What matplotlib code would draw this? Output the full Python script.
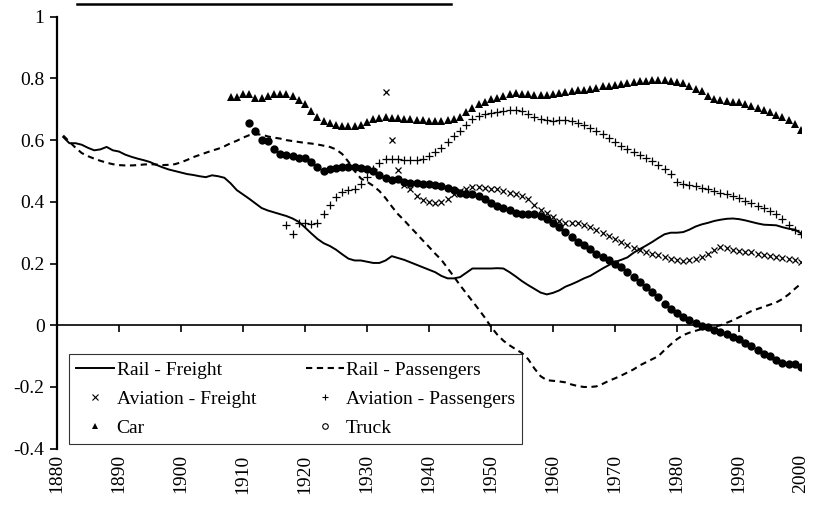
import matplotlib
matplotlib.use("Agg")
import matplotlib.pyplot as plt
from matplotlib.lines import Line2D

# ---------------- data ----------------
rail_freight_years = list(range(1881, 2001))
rail_freight = [0.61, 0.59, 0.59, 0.585, 0.575, 0.567, 0.57, 0.578, 0.567, 0.563,
                0.553, 0.546, 0.54, 0.535, 0.529, 0.52, 0.512, 0.505, 0.5, 0.495,
                0.49, 0.487, 0.483, 0.48, 0.486, 0.483, 0.478, 0.46, 0.438, 0.424,
                0.41, 0.395, 0.38, 0.372, 0.366, 0.36, 0.354, 0.346, 0.335, 0.317,
                0.298, 0.28, 0.266, 0.257, 0.245, 0.23, 0.216, 0.21, 0.21, 0.206,
                0.202, 0.202, 0.21, 0.224, 0.218, 0.212, 0.204, 0.196, 0.188, 0.18,
                0.172, 0.16, 0.152, 0.152, 0.156, 0.17, 0.184, 0.184, 0.184, 0.184,
                0.185, 0.184, 0.172, 0.158, 0.143, 0.13, 0.118, 0.106, 0.1, 0.105,
                0.113, 0.125, 0.133, 0.142, 0.152, 0.16, 0.172, 0.184, 0.195, 0.205,
                0.212, 0.22, 0.235, 0.247, 0.258, 0.27, 0.283, 0.295, 0.3, 0.3,
                0.302, 0.31, 0.32, 0.327, 0.332, 0.338, 0.342, 0.345, 0.346, 0.344,
                0.34, 0.335, 0.33, 0.326, 0.325, 0.324, 0.318, 0.313, 0.31, 0.298]

rail_pass_years = list(range(1881, 2001))
rail_pass = [0.615, 0.595, 0.575, 0.558, 0.548, 0.54, 0.533, 0.527, 0.522, 0.519,
             0.518, 0.518, 0.519, 0.521, 0.522, 0.521, 0.519, 0.52, 0.522, 0.528,
             0.536, 0.545, 0.552, 0.559, 0.566, 0.572, 0.58, 0.59, 0.598, 0.608,
             0.616, 0.619, 0.618, 0.612, 0.608, 0.605, 0.6, 0.597, 0.594, 0.591,
             0.589, 0.586, 0.582, 0.578, 0.57, 0.555, 0.53, 0.5, 0.476, 0.465,
             0.452, 0.435, 0.412, 0.385, 0.36, 0.34, 0.318, 0.297, 0.275, 0.254,
             0.232, 0.212, 0.185, 0.158, 0.13, 0.104, 0.078, 0.052, 0.025, -0.005,
             -0.03, -0.05, -0.065, -0.078, -0.09, -0.11, -0.14, -0.165, -0.178, -0.18,
             -0.182, -0.185, -0.192, -0.197, -0.2, -0.2, -0.198, -0.19, -0.18, -0.172,
             -0.163, -0.153, -0.143, -0.13, -0.12, -0.11, -0.1, -0.08, -0.062, -0.045,
             -0.032, -0.024, -0.018, -0.012, -0.008, -0.005, 0.0, 0.008, 0.016, 0.026,
             0.036, 0.046, 0.053, 0.06, 0.067, 0.074, 0.085, 0.1, 0.118, 0.135]

avi_freight_years = list(range(1933, 2001))
avi_freight = [0.756, 0.602, 0.502, 0.455, 0.44, 0.42, 0.405, 0.398, 0.395, 0.40,
               0.41, 0.425, 0.435, 0.443, 0.447, 0.447, 0.446, 0.443, 0.44, 0.435,
               0.43, 0.424, 0.418, 0.41, 0.39, 0.375, 0.365, 0.352, 0.338, 0.333,
               0.332, 0.33, 0.325, 0.318, 0.31, 0.3, 0.29, 0.28, 0.27, 0.26,
               0.252, 0.244, 0.238, 0.232, 0.228, 0.222, 0.216, 0.212, 0.208, 0.21,
               0.215, 0.222, 0.232, 0.245, 0.254, 0.252, 0.245, 0.24, 0.238, 0.236,
               0.232, 0.228, 0.224, 0.22, 0.218, 0.214, 0.212, 0.205]

avi_pass_years = list(range(1917, 2001))
avi_pass = [0.324, 0.295, 0.332, 0.332, 0.328, 0.332, 0.359, 0.389, 0.416, 0.432,
            0.438, 0.443, 0.459, 0.481, 0.508, 0.526, 0.54, 0.54, 0.539, 0.537,
            0.535, 0.537, 0.54, 0.548, 0.56, 0.575, 0.595, 0.612, 0.63, 0.65,
            0.668, 0.678, 0.684, 0.688, 0.691, 0.694, 0.699, 0.699, 0.694, 0.684,
            0.674, 0.668, 0.664, 0.662, 0.664, 0.665, 0.662, 0.657, 0.649, 0.64,
            0.629, 0.619, 0.606, 0.595, 0.582, 0.572, 0.562, 0.553, 0.543, 0.532,
            0.52, 0.507, 0.49, 0.465, 0.458, 0.455, 0.451, 0.446, 0.44, 0.435,
            0.43, 0.424, 0.418, 0.411, 0.404, 0.396, 0.388, 0.38, 0.37, 0.36,
            0.345, 0.325, 0.31, 0.295]

car_years = list(range(1908, 2001))
car = [0.74, 0.74, 0.751, 0.749, 0.738, 0.735, 0.743, 0.749, 0.749, 0.751,
       0.743, 0.729, 0.716, 0.694, 0.675, 0.662, 0.654, 0.65, 0.646, 0.645,
       0.645, 0.648, 0.659, 0.669, 0.673, 0.674, 0.672, 0.671, 0.669, 0.667,
       0.666, 0.664, 0.662, 0.662, 0.663, 0.665, 0.67, 0.676, 0.69, 0.705,
       0.716, 0.724, 0.732, 0.737, 0.744, 0.749, 0.753, 0.751, 0.749, 0.747,
       0.747, 0.746, 0.749, 0.753, 0.756, 0.76, 0.762, 0.764, 0.767, 0.77,
       0.774, 0.777, 0.78, 0.782, 0.785, 0.788, 0.791, 0.793, 0.796, 0.796,
       0.795, 0.793, 0.789, 0.785, 0.777, 0.767, 0.759, 0.743, 0.732, 0.731,
       0.728, 0.725, 0.722, 0.717, 0.711, 0.704, 0.699, 0.691, 0.683, 0.675,
       0.665, 0.651, 0.633]

truck_years = list(range(1911, 2001))
truck = [0.656, 0.63, 0.602, 0.597, 0.571, 0.555, 0.553, 0.549, 0.541, 0.541,
         0.528, 0.513, 0.501, 0.505, 0.511, 0.513, 0.513, 0.512, 0.509, 0.506,
         0.5, 0.488, 0.476, 0.472, 0.473, 0.465, 0.462, 0.461, 0.458, 0.457,
         0.454, 0.45, 0.444, 0.437, 0.43, 0.426, 0.425, 0.418, 0.408, 0.397,
         0.388, 0.38, 0.372, 0.364, 0.361, 0.36, 0.359, 0.353, 0.343, 0.33,
         0.317, 0.302, 0.286, 0.27, 0.259, 0.248, 0.232, 0.221, 0.211, 0.2,
         0.189, 0.173, 0.157, 0.14, 0.124, 0.108, 0.092, 0.07, 0.054, 0.04,
         0.027, 0.016, 0.008, -0.003, -0.007, -0.014, -0.022, -0.029, -0.038, -0.046,
         -0.057, -0.068, -0.079, -0.092, -0.1, -0.113, -0.122, -0.126, -0.126, -0.135]

x_ticks = list(range(1880, 2001, 10))
x_tick_labels = [str(y) for y in x_ticks]
y_ticks = [-0.4, -0.2, 0, 0.2, 0.4, 0.6, 0.8, 1.0]
y_tick_labels = ["-0.4", "-0.2", "0", "0.2", "0.4", "0.6", "0.8", "1"]

labels = ["Rail - Freight", "Rail - Passengers", "Aviation - Freight",
          "Aviation - Passengers", "Car", "Truck"]

# ---------------- figure ----------------
plt.rcParams['font.family'] = ['Liberation Serif', 'DejaVu Serif']
FS = 14
fig = plt.figure(figsize=(8.15, 5.05), dpi=100)
ax = fig.add_axes([57/815, 1 - 448.7/505, 744/815, 432/505])

ax.plot(rail_freight_years, rail_freight, color='black', lw=1.4, zorder=3)
ax.plot(rail_pass_years, rail_pass, color='black', lw=1.5, ls=(0, (3, 2.2)), zorder=3)
ax.plot(avi_freight_years, avi_freight, ls='none', marker='x', ms=5, mew=0.9,
        color='black', zorder=4)
ax.plot(avi_pass_years, avi_pass, ls='none', marker='+', ms=6, mew=0.9,
        color='black', zorder=4)
ax.plot(car_years, car, ls='none', marker='^', ms=6, color='black', mew=0, zorder=4)
ax.plot(truck_years, truck, ls='none', marker='o', ms=6, color='black', mew=0, zorder=4)

ax.set_xlim(1880, 2000)
ax.set_ylim(-0.4, 1.0)

for s in ['top', 'right']:
    ax.spines[s].set_visible(False)
ax.spines['left'].set_linewidth(1.6)
ax.spines['bottom'].set_position(('data', 0))
ax.spines['bottom'].set_linewidth(1.2)

ax.set_yticks(y_ticks)
ax.set_yticklabels(y_tick_labels, fontsize=FS)
ax.tick_params(axis='y', direction='out', length=5, width=1.2, pad=4)

ax.set_xticks(x_ticks)
ax.set_xticklabels([])
ax.tick_params(axis='x', direction='out', length=5, width=1.2)

sec = ax.secondary_xaxis('bottom')
sec.set_xticks(x_ticks)
sec.set_xticklabels(x_tick_labels, rotation=90, fontsize=FS)
sec.tick_params(axis='x', length=0, pad=4)
sec.spines['bottom'].set_visible(False)

handles = [
    Line2D([], [], color='black', lw=1.4),
    Line2D([], [], ls='none', marker='x', ms=4, mew=0.8, color='black'),
    Line2D([], [], ls='none', marker='^', ms=4.5, mew=0, color='black'),
    Line2D([], [], color='black', lw=1.5, ls=(0, (3, 2.2))),
    Line2D([], [], ls='none', marker='+', ms=5, mew=0.8, color='black'),
    Line2D([], [], ls='none', marker='o', ms=4, mfc='white', mec='black', mew=0.8),
]
hl = [labels[0], labels[2], labels[4], labels[1], labels[3], labels[5]]
leg = ax.legend(handles, hl, ncol=2, loc='lower left',
                bbox_to_anchor=(12/744, 4.7/432),
                fontsize=FS, frameon=True, fancybox=False, borderaxespad=0,
                handlelength=1.95, handletextpad=0.12, labelspacing=0.58,
                borderpad=0.38, columnspacing=2.55)
leg.get_frame().set_edgecolor('black')
leg.get_frame().set_linewidth(0.8)

# clipped, underlined title remnant at the top edge
fig.add_artist(Line2D([77/815, 451/815], [1 - 3.5/505, 1 - 3.5/505],
                      color='black', lw=1.8, transform=fig.transFigure))

fig.savefig('out.png', dpi=100)
